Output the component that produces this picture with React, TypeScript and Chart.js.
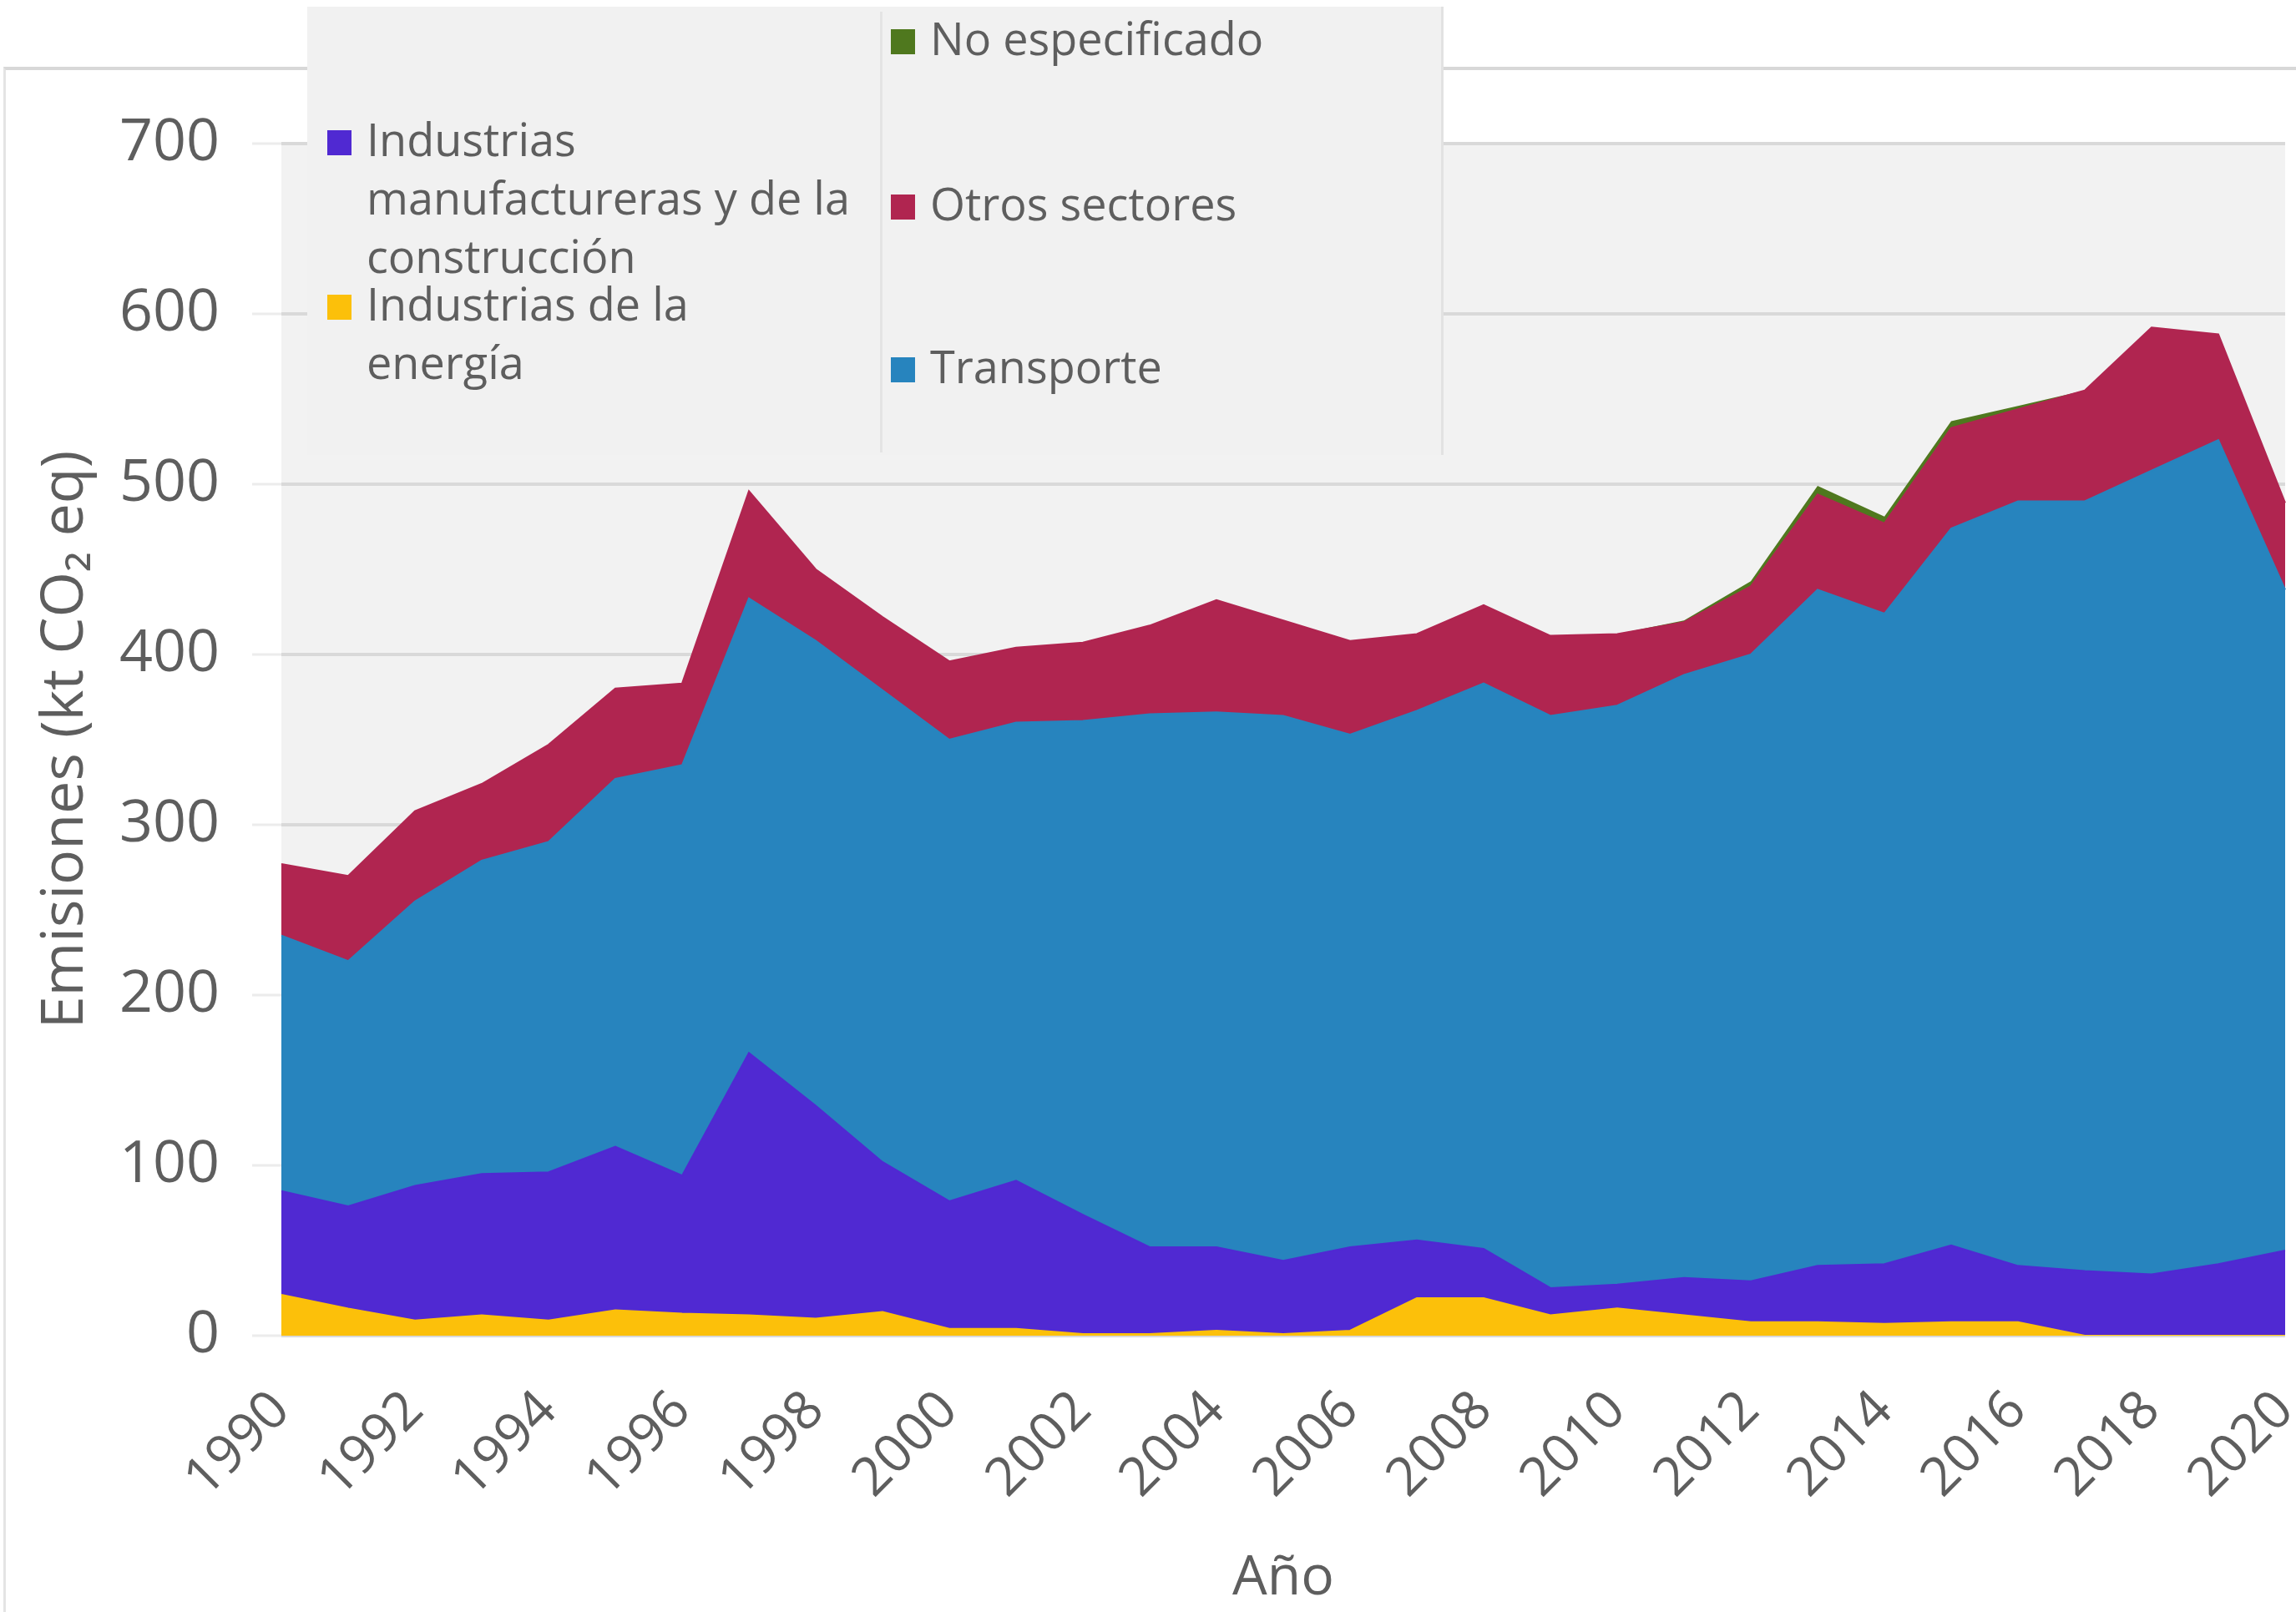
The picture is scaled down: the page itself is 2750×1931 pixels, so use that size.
import React, { useEffect, useRef } from "react";
import { Chart, registerables } from "chart.js";

Chart.register(...registerables);

// ---------- DATA ----------
const years = [
  "1990", "1991", "1992", "1993", "1994", "1995", "1996", "1997", "1998", "1999",
  "2000", "2001", "2002", "2003", "2004", "2005", "2006", "2007", "2008", "2009",
  "2010", "2011", "2012", "2013", "2014", "2015", "2016", "2017", "2018", "2019", "2020",
];

// kt CO2 eq, stacked from bottom to top
const energia = [24, 16, 9, 12, 9, 15, 13, 12, 10, 14, 4, 4, 1, 1, 3, 1, 3, 22, 22, 12, 16, 12, 8, 8, 7, 8, 8, 0, 0, 0, 0];
const manufactureras = [61, 60, 79, 83, 87, 96, 81, 154, 125, 88, 75, 87, 70, 51, 49, 43, 49, 34, 29, 16, 14, 22, 24, 33, 35, 45, 33, 38, 36, 42, 50];
const transporte = [150, 144, 167, 184, 194, 216, 241, 267, 273, 277, 271, 269, 290, 313, 314, 320, 301, 311, 332, 336, 340, 354, 368, 397, 382, 421, 449, 452, 472, 484, 388];
const otros = [42, 50, 53, 45, 57, 53, 48, 63, 42, 43, 46, 44, 46, 52, 66, 56, 55, 45, 46, 47, 42, 31, 40, 56, 53, 59, 54, 65, 84, 62, 51];
const noEspecificado = [0, 0, 0, 0, 0, 0, 0, 0, 0, 0, 0, 0, 0, 0, 0, 0, 0, 0, 0, 0, 0, 1, 3, 5, 4, 4, 2, 0, 0, 0, 0];

const seriesLabels = [
  "Industrias de la\nenergía",
  "Industrias\nmanufactureras y de la\nconstrucción",
  "Transporte",
  "Otros sectores",
  "No especificado",
];
const seriesValues = [energia, manufactureras, transporte, otros, noEspecificado];
const seriesColors = ["#FCC00A", "#5029D2", "#2784BE", "#B02550", "#4F781E"];

const yTicks = [0, 100, 200, 300, 400, 500, 600, 700];
const yTitle = "Emisiones (kt CO₂ eq)";
const xTitle = "Año";

// ---------- LAYOUT ----------
const FONT = "'Open Sans', 'DejaVu Sans', sans-serif";
const TEXT = "#5E5E5E";

// legend placement: [seriesIndex, left, top]
const legendPlacement: [number, number, number][] = [
  [1, 392, 131],
  [0, 392, 328],
  [4, 1067, 10],
  [3, 1067, 208],
  [2, 1067, 403],
];

const plotBg = {
  id: "plotBg",
  beforeDraw(chart: any) {
    const { ctx, chartArea: a } = chart;
    ctx.save();
    ctx.fillStyle = "#F2F2F2";
    ctx.fillRect(a.left, a.top, a.right - a.left, a.bottom - a.top);
    ctx.restore();
  },
};

export default function App() {
  const ref = useRef<HTMLCanvasElement>(null);

  useEffect(() => {
    if (!ref.current) return;
    const chart = new Chart(ref.current, {
      type: "line",
      data: {
        labels: years,
        datasets: seriesValues.map((vals, i) => ({
          label: seriesLabels[i].replace(/\n/g, " "),
          data: vals,
          backgroundColor: seriesColors[i],
          borderColor: seriesColors[i],
          borderWidth: i === 4 ? 0 : 2,
          fill: i === 0 ? "origin" : "-1",
          pointRadius: 0,
          tension: 0,
        })),
      },
      options: {
        animation: false,
        responsive: false,
        maintainAspectRatio: false,
        layout: { padding: { left: 0, right: 13, top: 172, bottom: 0 } },
        plugins: {
          legend: { display: false },
          tooltip: { enabled: false },
        },
        scales: {
          x: {
            type: "category",
            offset: false,
            grid: { display: false, drawTicks: false },
            border: { display: false },
            ticks: {
              autoSkip: false,
              minRotation: 45,
              maxRotation: 45,
              padding: 52,
              color: TEXT,
              font: { family: FONT, size: 64 },
              callback: (_v: any, i: number) => (i % 2 === 0 ? years[i] : null),
            },
            title: {
              display: true,
              text: xTitle,
              color: TEXT,
              font: { family: FONT, size: 66, lineHeight: 1.2 },
              padding: { top: 0, bottom: 0 },
            },
            afterFit: (s: any) => {
              s.height = 331;
              s.paddingRight = 0;
              s.paddingLeft = 0;
            },
          },
          y: {
            stacked: true,
            min: 0,
            max: 700,
            afterBuildTicks: (s: any) => {
              s.ticks = yTicks.map((v) => ({ value: v }));
            },
            grid: {
              color: "#D9D9D9",
              lineWidth: 4,
              tickLength: 35,
              tickColor: "#ECECEC",
              tickWidth: 3,
            },
            border: { display: false },
            ticks: {
              padding: 39,
              color: TEXT,
              font: { family: FONT, size: 70 },
            },
            title: {
              display: true,
              text: yTitle,
              color: TEXT,
              font: { family: FONT, size: 70, lineHeight: 1.2 },
              padding: { top: 37, bottom: 0 },
            },
            afterFit: (s: any) => {
              s.width = 337;
            },
          },
        },
      },
      plugins: [plotBg],
    } as any);
    return () => chart.destroy();
  }, []);

  return (
    <div
      style={{
        position: "fixed",
        left: 0,
        top: 0,
        width: 2750,
        height: 1931,
        background: "#FFFFFF",
        overflow: "hidden",
      }}
    >
      <div
        style={{
          position: "absolute",
          left: 4,
          top: 80,
          right: -10,
          bottom: -10,
          borderTop: "4px solid #D8D8D8",
          borderLeft: "3px solid #E4E4E4",
        }}
      />
      <canvas
        ref={ref}
        width={2750}
        height={1931}
        style={{ position: "absolute", left: 0, top: 0, width: 2750, height: 1931 }}
      />
      {/* legend box */}
      <div
        style={{
          position: "absolute",
          left: 368,
          top: 8,
          width: 1361,
          height: 537,
          background: "#F1F1F1",
          borderRight: "3px solid #E2E2E2",
          boxSizing: "border-box",
        }}
      />
      <div
        style={{
          position: "absolute",
          left: 1054,
          top: 14,
          width: 3,
          height: 528,
          background: "#E4E4E4",
        }}
      />
      {legendPlacement.map(([si, left, top]) => (
        <div key={si} style={{ position: "absolute", left, top }}>
          <div
            style={{
              position: "absolute",
              left: 0,
              top: 25,
              width: 29,
              height: 30,
              background: seriesColors[si],
            }}
          />
          <div
            style={{
              position: "absolute",
              left: 47,
              top: 0,
              whiteSpace: "pre",
              fontFamily: FONT,
              fontSize: 54,
              lineHeight: "70px",
              color: TEXT,
            }}
          >
            {seriesLabels[si]}
          </div>
        </div>
      ))}
    </div>
  );
}
